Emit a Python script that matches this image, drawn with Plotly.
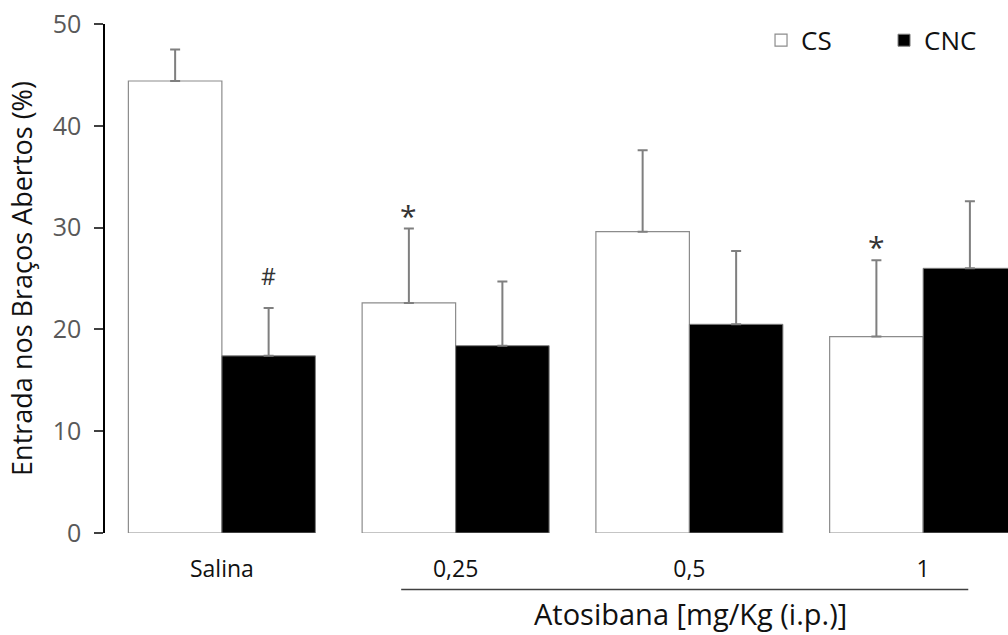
import plotly.graph_objects as go

categories = ["Salina", "0,25", "0,5", "1"]
cs_mean = [44.4, 22.6, 29.6, 19.3]
cs_upper = [47.5, 29.9, 37.6, 26.8]
cnc_mean = [17.4, 18.4, 20.5, 26.0]
cnc_upper = [22.1, 24.7, 27.7, 32.6]

# significance marks: (category, series, symbol)
marks = [("Salina", "CNC", "#"), ("0,25", "CS", "*"), ("1", "CS", "*")]

FONT = "Open Sans"
ERR_COLOR = "#7f7f7f"

cs_err = [u - m for u, m in zip(cs_upper, cs_mean)]
cnc_err = [u - m for u, m in zip(cnc_upper, cnc_mean)]

fig = go.Figure()
fig.add_trace(go.Bar(
    name="CS", x=categories, y=cs_mean,
    marker=dict(color="white", line=dict(color="#8c8c8c", width=1.2)),
    error_y=dict(type="data", symmetric=False, array=cs_err, arrayminus=[0] * 4,
                 color=ERR_COLOR, thickness=2, width=5),
))
fig.add_trace(go.Bar(
    name="CNC", x=categories, y=cnc_mean,
    marker=dict(color="black", line=dict(color="#7f7f7f", width=1)),
    error_y=dict(type="data", symmetric=False, array=cnc_err, arrayminus=[0] * 4,
                 color=ERR_COLOR, thickness=2, width=5),
))

idx = {c: i for i, c in enumerate(categories)}
for cat, series, sym in marks:
    i = idx[cat]
    if series == "CS":
        ytop, shift = cs_upper[i], -47
    else:
        ytop, shift = cnc_upper[i], 47
    fig.add_annotation(x=i, y=ytop, xref="x", yref="y", text=sym, showarrow=False,
                       xshift=shift, yanchor="bottom", yshift=(-9 if sym == "*" else 14),
                       font=dict(family=FONT, size=(30 if sym == "*" else 23), color="#333333"))

# x group label with line
fig.add_shape(type="line", xref="paper", yref="paper", x0=0.328, x1=0.956, y0=-0.111, y1=-0.111,
              line=dict(color="#404040", width=1.5))
fig.add_annotation(text="Atosibana [mg/Kg (i.p.)]", xref="paper", yref="paper", x=0.648, y=-0.158,
                   showarrow=False, yanchor="middle", xanchor="center",
                   font=dict(family=FONT, size=29, color="#111111"))

fig.update_layout(
    width=1008, height=635,
    margin=dict(l=105, r=0, t=24, b=102, autoexpand=False),
    paper_bgcolor="white", plot_bgcolor="white",
    barmode="group", bargap=0.2, bargroupgap=0,
    font=dict(family=FONT, color="#111111"),
    showlegend=True,
    legend=dict(orientation="h", x=0.7265, xanchor="left", y=0.968, yanchor="middle",
                font=dict(family=FONT, size=26, color="#111111"),
                bgcolor="rgba(0,0,0,0)", entrywidth=78, itemwidth=30),
    xaxis=dict(range=[-0.5, 3.363], showline=False, ticks="", showgrid=False,
               tickfont=dict(family=FONT, size=23, color="#111111"), ticklabelstandoff=20),
    yaxis=dict(title=dict(text="Entrada nos Braços Abertos (%)", font=dict(family=FONT, size=27, color="#111111"), standoff=12),
               range=[0, 50], tickvals=[0, 10, 20, 30, 40, 50], showgrid=False, zeroline=False,
               showline=True, linecolor="black", linewidth=1.5, ticks="outside", ticklen=9,
               tickcolor="#404040", tickwidth=2,
               tickfont=dict(family=FONT, size=25, color="#595959"), ticklabelstandoff=8),
)

fig.write_html("out.html", config={"displayModeBar": False},
               post_script="document.body.style.margin='0';document.body.style.overflow='hidden';")
